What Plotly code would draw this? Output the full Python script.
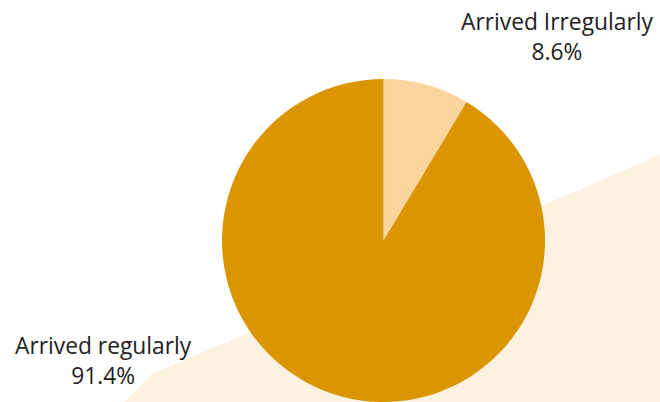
import plotly.graph_objects as go

labels = ["Arrived Irregularly", "Arrived regularly"]
values = [8.6, 91.4]
colors = ["#FAD59D", "#DB9500"]
label_pos = [(557, 37), (103, 360)]  # pixel centers of label blocks

W, H = 660, 402

fig = go.Figure()
fig.add_trace(go.Pie(
    labels=labels, values=values, sort=False, direction="clockwise", rotation=0,
    marker=dict(colors=colors, line=dict(width=0)),
    textinfo="none", hoverinfo="label+percent", showlegend=False,
    domain=dict(x=[(383.5 - 161.5) / W, (383.5 + 161.5) / W], y=[0, 1 - 79 / H]),
))

def px(x, y):
    return f"{x / W:.4f} {1 - y / H:.4f}"

# cream background band
path = (f"M {px(123, 404)} L {px(150, 375)} L {px(662, 154)} L {px(662, 404)} Z")
fig.update_layout(shapes=[dict(type="path", xref="paper", yref="paper", path=path,
                               fillcolor="#FDF1DF", line=dict(width=0), layer="below")])

total = sum(values)
for lab, v, (x, y) in zip(labels, values, label_pos):
    fig.add_annotation(x=x / W, y=1 - y / H, xref="paper", yref="paper",
                       text=f"{lab}<br>{v / total * 100:.1f}%", showarrow=False,
                       xanchor="center", yanchor="middle", align="center",
                       font=dict(family="Open Sans, sans-serif", size=22.8, color="#222222"))

fig.update_layout(width=W, height=H, margin=dict(l=0, r=0, t=0, b=0),
                  paper_bgcolor="white", plot_bgcolor="white")
fig.write_html("out.html", config={"displayModeBar": False},
               post_script="document.body.style.margin='0';document.body.style.overflow='hidden';")
